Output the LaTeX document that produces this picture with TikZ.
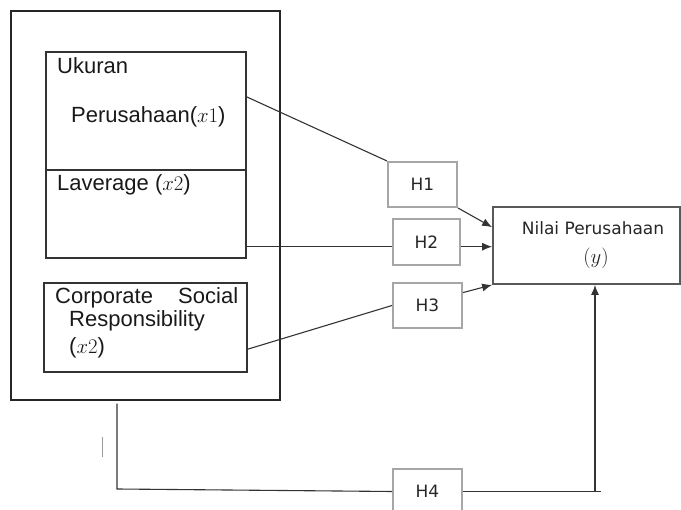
\documentclass[tikz,border=0pt]{standalone}
\usepackage[no-math]{fontspec}
\setmainfont{Liberation Sans}
\newfontfamily\hypfont{DejaVu Sans}
\usetikzlibrary{positioning,arrows.meta}

\begin{document}
\begin{tikzpicture}[x=1pt,y=-1pt,
                    outerbox/.style={draw=black!85,line width=1.3pt,inner sep=0pt},
                    varbox/.style={draw=black!80,line width=1.3pt,inner sep=0pt},
                    hypbox/.style={draw=black!35,line width=2pt,inner sep=0pt,
                                   minimum width=69pt,minimum height=45pt,
                                   font=\hypfont\fontsize{17}{20}\selectfont,text=black!85},
                    depbox/.style={draw=black!65,line width=1.8pt,inner sep=0pt},
                    lbl/.style={inner sep=0pt,anchor=west,
                                font=\fontsize{22}{26}\selectfont,text=black!90},
                    deplbl/.style={inner sep=0pt,font=\hypfont\fontsize{17}{20}\selectfont,text=black!85},
                    link/.style={draw=black!80,line width=1.1pt},
                    arr/.style={link,-{Latex[length=10pt,width=8pt]}}]
  \useasboundingbox (0,0) rectangle (681,510);

  % independent variables
  \node[outerbox,minimum width=269pt,minimum height=389pt] (outer) at (145.5,205.5) {};
  \node[varbox,minimum width=200pt,minimum height=118pt] (ukuran) at (146,111) {};
  \node[varbox,minimum width=200pt,minimum height=88pt] (laverage) at (146,214) {};
  \node[varbox,minimum width=203pt,minimum height=89pt] (csr) at (145.5,327.5) {};
  \node[lbl] (ukuranA) at (57,66) {Ukuran};
  \node[lbl] (ukuranB) at (71,117) {Perusahaan($x1$)};
  \node[lbl] (laverageA) at (57,185) {Laverage ($x2$)};
  \node[lbl] (csrA) at (55,298) {\makebox[183pt][s]{Corporate Social}};
  \node[lbl] (csrB) at (69,321) {Responsibility};
  \node[lbl] (csrC) at (69,348) {($x2$)};

  % hypotheses
  \node[hypbox] (h1) at (422.5,184.5) {H1};
  \node[hypbox,minimum width=67pt,minimum height=46pt] (h2) at (426.5,242) {H2};
  \node[hypbox] (h3) at (427.5,305.5) {H3};
  \node[hypbox] (h4) at (427.5,491.5) {H4};

  % dependent variable
  \node[depbox,minimum width=187pt,minimum height=77pt] (nilai) at (586.5,245.5) {};
  \node[deplbl] (nilaiA) at (593,228) {Nilai Perusahaan};
  \node[deplbl] (nilaiB) at (596,258) {\fontsize{20}{24}\selectfont$(y)$};

  \coordinate (bend) at (117,489);
  \coordinate (corner) at (595,491.5);
  \coordinate (tickA) at (102,437);
  \coordinate (tickB) at (102,457);

  % connectors
  \draw[link] (ukuran.8) -- (h1.north west);
  \draw[arr] (h1.south east) -- (nilai.169);
  \draw[link] (laverage.-18) -- (laverage.-18 -| h2.west);
  \draw[arr] (h2.east |- laverage.-18) -- (nilai.west |- laverage.-18);
  \draw[link] (csr.-12) -- (h3.west);
  \draw[arr] (h3.20) -- (nilai.south west);
  \draw[link] ([xshift=-28.5pt,yshift=-3pt]outer.south) |- (bend) -- (h4.west);
  \draw[link] (h4.east) -- ([xshift=6pt]corner);
  \draw[arr] (corner) -- (corner |- nilai.south);
  \draw[black!40,line width=0.8pt] (tickA) -- (tickB);
\end{tikzpicture}
\end{document}
